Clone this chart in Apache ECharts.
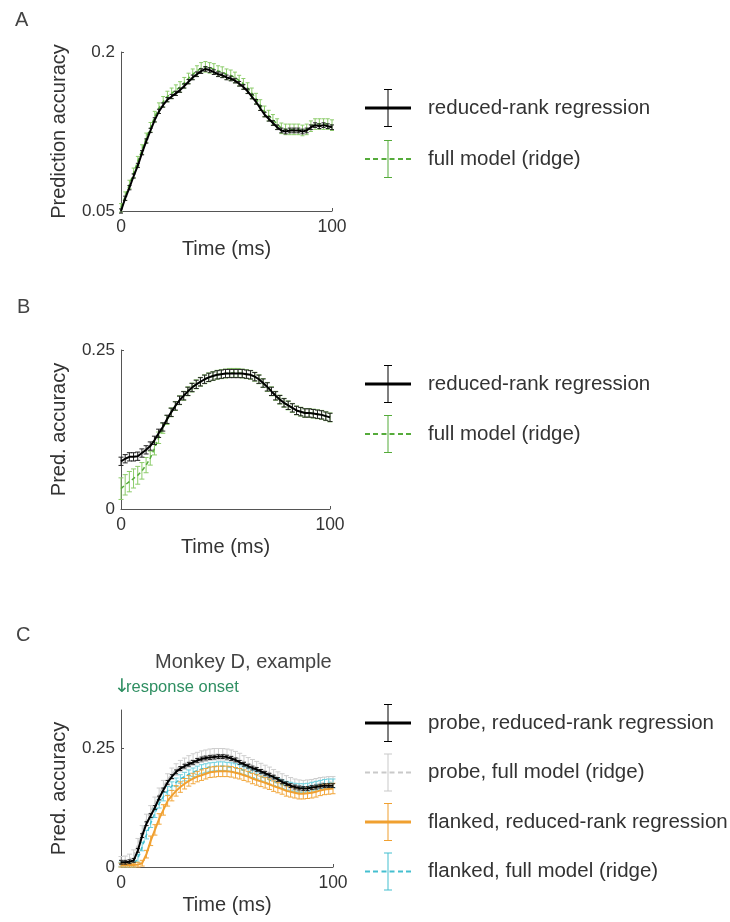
<!DOCTYPE html>
<html>
<head>
<meta charset="utf-8">
<script src="https://cdn.jsdelivr.net/npm/echarts@6/dist/echarts.min.js"></script>
<style>html,body{margin:0;padding:0;background:#fff;}#c{width:730px;height:922px;}</style>
</head>
<body>
<div id="c"></div>
<script>
// ---------- data ----------
const time = [0,2,4,6,8,10,12,14,16,18,20,22,24,26,28,30,32,34,36,38,40,42,44,46,48,50,52,54,56,58,60,62,64,66,68,70,72,74,76,78,80,82,84,86,88,90,92,94,96,98,100];

// Panel A
const A_rrr = [0.050,0.062,0.072,0.083,0.093,0.105,0.116,0.126,0.136,0.144,0.150,0.155,0.158,0.161,0.164,0.168,0.172,0.176,0.179,0.182,0.184,0.183,0.181,0.179,0.178,0.176,0.175,0.173,0.170,0.167,0.163,0.158,0.153,0.147,0.141,0.137,0.133,0.129,0.126,0.125,0.126,0.126,0.126,0.125,0.126,0.129,0.131,0.130,0.131,0.130,0.129];
const A_rrr_err = [0.002,0.002,0.002,0.002,0.002,0.002,0.002,0.002,0.002,0.002,0.002,0.002,0.002,0.002,0.002,0.002,0.002,0.0022,0.0022,0.0022,0.0022,0.0022,0.0022,0.0022,0.0022,0.0022,0.0022,0.0022,0.0022,0.0022,0.0022,0.0022,0.0022,0.0022,0.0022,0.0022,0.0022,0.0022,0.0022,0.0022,0.0022,0.0022,0.0022,0.0022,0.0022,0.0022,0.0022,0.0022,0.0022,0.0022,0.0022];
const A_ridge = [0.053,0.064,0.075,0.086,0.097,0.108,0.119,0.129,0.139,0.147,0.153,0.158,0.161,0.164,0.167,0.171,0.175,0.179,0.182,0.185,0.186,0.185,0.184,0.182,0.181,0.179,0.178,0.176,0.173,0.170,0.166,0.161,0.156,0.150,0.144,0.140,0.136,0.132,0.128,0.127,0.127,0.127,0.127,0.126,0.127,0.130,0.132,0.132,0.132,0.132,0.131];
const A_ridge_err = [0.004,0.004,0.004,0.0045,0.0045,0.0045,0.0045,0.0045,0.005,0.005,0.005,0.005,0.005,0.005,0.005,0.005,0.005,0.005,0.005,0.005,0.005,0.005,0.005,0.005,0.005,0.005,0.005,0.005,0.005,0.005,0.005,0.005,0.005,0.005,0.005,0.005,0.005,0.005,0.005,0.005,0.005,0.005,0.005,0.005,0.005,0.005,0.005,0.005,0.005,0.005,0.005];

// Panel B
const B_rrr = [0.075,0.079,0.082,0.082,0.083,0.088,0.093,0.099,0.108,0.119,0.129,0.141,0.152,0.162,0.171,0.178,0.185,0.191,0.196,0.200,0.204,0.207,0.209,0.211,0.212,0.213,0.213,0.213,0.213,0.213,0.212,0.211,0.208,0.204,0.198,0.192,0.185,0.178,0.172,0.167,0.163,0.159,0.155,0.153,0.151,0.151,0.150,0.149,0.148,0.146,0.144];
const B_rrr_err = [0.0065,0.0065,0.0065,0.0065,0.0065,0.0065,0.0065,0.0065,0.0065,0.0065,0.0065,0.0065,0.0065,0.0065,0.0065,0.0065,0.0065,0.0065,0.0065,0.0065,0.0065,0.0065,0.0065,0.0065,0.0065,0.0065,0.0065,0.0065,0.0065,0.0065,0.0065,0.0065,0.0065,0.0065,0.0065,0.0065,0.0065,0.0065,0.0065,0.0065,0.0065,0.0065,0.0065,0.0065,0.0065,0.0065,0.0065,0.0065,0.0065,0.0065,0.0065];
const B_ridge = [0.032,0.038,0.043,0.048,0.053,0.060,0.069,0.080,0.095,0.112,0.127,0.140,0.152,0.162,0.171,0.178,0.185,0.191,0.196,0.200,0.204,0.207,0.209,0.211,0.212,0.213,0.214,0.214,0.214,0.213,0.212,0.211,0.208,0.204,0.198,0.192,0.185,0.178,0.172,0.167,0.163,0.159,0.155,0.153,0.151,0.151,0.150,0.149,0.148,0.146,0.144];
const B_ridge_err = [0.017,0.016,0.016,0.015,0.014,0.013,0.012,0.011,0.010,0.009,0.008,0.007,0.007,0.007,0.007,0.007,0.007,0.007,0.007,0.007,0.007,0.007,0.007,0.007,0.007,0.007,0.007,0.007,0.007,0.007,0.007,0.007,0.007,0.007,0.007,0.007,0.007,0.007,0.007,0.007,0.007,0.007,0.007,0.007,0.007,0.007,0.007,0.007,0.007,0.007,0.007];

// Panel C
const C_probe_rrr = [0.010,0.010,0.011,0.014,0.035,0.066,0.091,0.108,0.125,0.145,0.162,0.178,0.190,0.200,0.207,0.212,0.216,0.220,0.224,0.227,0.229,0.230,0.231,0.232,0.232,0.231,0.228,0.225,0.220,0.216,0.212,0.208,0.205,0.201,0.197,0.193,0.189,0.184,0.179,0.175,0.171,0.168,0.166,0.165,0.165,0.167,0.168,0.170,0.171,0.171,0.171];
const C_probe_rrr_err = [0.004,0.004,0.004,0.004,0.004,0.004,0.004,0.004,0.004,0.004,0.004,0.004,0.004,0.004,0.004,0.004,0.004,0.004,0.004,0.004,0.004,0.004,0.004,0.004,0.004,0.004,0.004,0.004,0.004,0.004,0.004,0.004,0.004,0.004,0.004,0.004,0.004,0.004,0.004,0.004,0.004,0.004,0.004,0.004,0.004,0.004,0.004,0.004,0.004,0.004,0.004];
const C_probe_ridge = [0.012,0.013,0.016,0.025,0.048,0.075,0.099,0.117,0.135,0.154,0.170,0.184,0.196,0.205,0.212,0.217,0.222,0.226,0.229,0.232,0.234,0.236,0.237,0.237,0.237,0.236,0.234,0.231,0.227,0.222,0.218,0.214,0.210,0.206,0.202,0.198,0.193,0.188,0.184,0.180,0.176,0.173,0.171,0.170,0.171,0.172,0.174,0.176,0.177,0.178,0.178];
const C_probe_ridge_err = [0.010,0.010,0.011,0.011,0.012,0.012,0.012,0.012,0.012,0.012,0.012,0.012,0.012,0.012,0.012,0.012,0.012,0.012,0.012,0.012,0.012,0.012,0.012,0.012,0.012,0.012,0.012,0.012,0.012,0.012,0.012,0.012,0.012,0.012,0.012,0.012,0.012,0.012,0.012,0.012,0.012,0.012,0.012,0.012,0.012,0.012,0.012,0.012,0.012,0.012,0.012];
const C_flank_rrr = [0.004,0.004,0.004,0.004,0.005,0.008,0.027,0.055,0.078,0.101,0.120,0.139,0.150,0.160,0.168,0.175,0.181,0.186,0.190,0.193,0.196,0.199,0.200,0.201,0.201,0.201,0.200,0.198,0.196,0.193,0.190,0.186,0.183,0.180,0.177,0.174,0.170,0.167,0.164,0.160,0.158,0.156,0.154,0.154,0.155,0.156,0.158,0.161,0.163,0.164,0.165];
const C_flank_rrr_err = [0.004,0.004,0.004,0.004,0.005,0.006,0.008,0.010,0.011,0.011,0.011,0.011,0.011,0.011,0.011,0.011,0.011,0.011,0.011,0.011,0.011,0.011,0.011,0.011,0.011,0.011,0.011,0.011,0.011,0.011,0.011,0.011,0.011,0.011,0.011,0.011,0.011,0.011,0.011,0.011,0.011,0.011,0.011,0.011,0.011,0.011,0.011,0.011,0.011,0.011,0.011];
const C_flank_ridge = [0.005,0.005,0.005,0.006,0.018,0.043,0.068,0.092,0.113,0.133,0.148,0.160,0.170,0.178,0.185,0.190,0.195,0.199,0.203,0.206,0.208,0.210,0.211,0.212,0.212,0.211,0.210,0.208,0.206,0.203,0.200,0.197,0.194,0.190,0.187,0.183,0.180,0.177,0.174,0.171,0.169,0.167,0.166,0.166,0.167,0.169,0.171,0.173,0.175,0.176,0.176];
const C_flank_ridge_err = [0.005,0.005,0.005,0.006,0.008,0.009,0.009,0.009,0.009,0.009,0.009,0.009,0.009,0.009,0.009,0.009,0.009,0.009,0.009,0.009,0.009,0.009,0.009,0.009,0.009,0.009,0.009,0.009,0.009,0.009,0.009,0.009,0.009,0.009,0.009,0.009,0.009,0.009,0.009,0.009,0.009,0.009,0.009,0.009,0.009,0.009,0.009,0.009,0.009,0.009,0.009];

const xTicks = [0, 100];
const yTicksA = [0.05, 0.2];
const yTicksB = [0, 0.25];
const yTicksC = [0, 0.25];

const namesAB = ['reduced-rank regression', 'full model (ridge)'];
const namesC = ['probe, reduced-rank regression', 'probe, full model (ridge)', 'flanked, reduced-rank regression', 'flanked, full model (ridge)'];

// ---------- build ----------
const FONT = 'Liberation Sans, Arial, sans-serif';
const TXT = '#333';
const AX = '#555';

const pairs = (v) => time.map((t, i) => [t, v[i]]);
const bars = (v, e) => time.map((t, i) => [t, v[i] - e[i], v[i] + e[i]]);

const ICON_SOLID = 'path://M0 17.5H46V20.5H0Z M22.5 1H23.5V37H22.5Z M19 0H27V1H19Z M19 37H27V38H19Z';
const ICON_DASH = 'path://M0 18H5V20H0Z M8 18H13V20H8Z M16.5 18H21.5V20H16.5Z M24.5 18H29.5V20H24.5Z M33 18H38V20H33Z M41 18H46V20H41Z M22.5 1H23.5V37H22.5Z M19 0H27V1H19Z M19 37H27V38H19Z';

function errSeries(name, gi, v, e, color, z, capW) {
  const w = capW || 2;
  return {
    type: 'custom', name: name, xAxisIndex: gi, yAxisIndex: gi, z: z, silent: true,
    data: bars(v, e), encode: { x: 0, y: [1, 2] },
    renderItem: function (params, api) {
      const x = api.value(0);
      const p1 = api.coord([x, api.value(1)]);
      const p2 = api.coord([x, api.value(2)]);
      const st = { stroke: color, lineWidth: 1 };
      return { type: 'group', children: [
        { type: 'line', shape: { x1: p1[0], y1: p1[1], x2: p2[0], y2: p2[1] }, style: st },
        { type: 'line', shape: { x1: p1[0] - w, y1: p1[1], x2: p1[0] + w, y2: p1[1] }, style: st },
        { type: 'line', shape: { x1: p2[0] - w, y1: p2[1], x2: p2[0] + w, y2: p2[1] }, style: st }
      ]};
    }
  };
}
function lineSeries(name, gi, v, color, width, dashed, z) {
  return {
    type: 'line', name: name, xAxisIndex: gi, yAxisIndex: gi, z: z, silent: true,
    data: pairs(v), showSymbol: false, symbol: 'none', animation: false,
    color: color,
    lineStyle: { color: color, width: width, type: dashed ? [4, 3] : 'solid' }
  };
}

const grids = [
  { left: 121, top: 52, width: 211, height: 159 },
  { left: 121, top: 350, width: 209, height: 159 },
  { left: 121, top: 710, width: 212, height: 157 }
];
const yRanges = [[0.05, 0.2, yTicksA, 'Prediction accuracy'], [0, 0.25, yTicksB, 'Pred. accuracy'], [0, 0.33, yTicksC, 'Pred. accuracy']];

const xAxes = grids.map((g, i) => ({
  type: 'value', gridIndex: i, min: 0, max: 100, interval: 100,
  axisLine: { show: true, lineStyle: { color: AX, width: 1 } },
  axisTick: { show: true, inside: true, length: 3, lineStyle: { color: AX }, customValues: xTicks },
  axisLabel: { fontSize: 17.5, color: TXT, fontFamily: FONT, margin: 7, customValues: xTicks },
  splitLine: { show: false },
  name: 'Time (ms)', nameLocation: 'middle', nameGap: 28,
  nameTextStyle: { fontSize: 20, color: TXT, fontFamily: FONT }
}));
const yAxes = yRanges.map((r, i) => ({
  type: 'value', gridIndex: i, min: r[0], max: r[1],
  axisLine: { show: true, lineStyle: { color: AX, width: 1 } },
  axisTick: { show: true, inside: true, length: 3, lineStyle: { color: AX }, customValues: r[2] },
  axisLabel: { fontSize: 17, color: TXT, fontFamily: FONT, margin: 6, customValues: r[2] },
  splitLine: { show: false },
  name: r[3], nameLocation: 'middle', nameGap: 52, nameRotate: 90,
  nameTextStyle: { fontSize: 20, color: TXT, fontFamily: FONT }
}));

const cBlack = '#000000', cGreen = '#55ab3a', cGreenErr = '#8ccc6a';
const cGray = '#c9c9c9', cGrayErr = '#cdcdcd';
const cOrange = '#f0a030', cOrangeErr = '#f2a63a';
const cCyan = '#45bfd0', cCyanErr = '#6fd0de';

const series = [
  // A
  errSeries('A_ridge_err', 0, A_ridge, A_ridge_err, cGreenErr, 2, 2),
  lineSeries(namesAB[1], 0, A_ridge, cGreen, 1.5, true, 3),
  errSeries('A_rrr_err', 0, A_rrr, A_rrr_err, '#222', 4, 2),
  lineSeries(namesAB[0], 0, A_rrr, cBlack, 2, false, 5),
  // B
  errSeries('B_ridge_err', 1, B_ridge, B_ridge_err, cGreenErr, 2, 2.5),
  lineSeries(namesAB[1], 1, B_ridge, cGreen, 1.5, true, 3),
  errSeries('B_rrr_err', 1, B_rrr, B_rrr_err, '#222', 4, 2.5),
  lineSeries(namesAB[0], 1, B_rrr, cBlack, 2, false, 5),
  // C
  errSeries('C_pr_err', 2, C_probe_ridge, C_probe_ridge_err, cGrayErr, 2, 2.5),
  lineSeries(namesC[1], 2, C_probe_ridge, cGray, 1.5, true, 3),
  errSeries('C_fr_err', 2, C_flank_ridge, C_flank_ridge_err, cCyanErr, 4, 2.5),
  lineSeries(namesC[3], 2, C_flank_ridge, cCyan, 1.5, true, 5),
  errSeries('C_frr_err', 2, C_flank_rrr, C_flank_rrr_err, cOrangeErr, 6, 2.5),
  lineSeries(namesC[2], 2, C_flank_rrr, cOrange, 2, false, 7),
  errSeries('C_prr_err', 2, C_probe_rrr, C_probe_rrr_err, '#222', 8, 2),
  lineSeries(namesC[0], 2, C_probe_rrr, cBlack, 2, false, 9)
];

function legend(top, gap, names, icons) {
  return {
    orient: 'vertical', left: 365, top: top, itemGap: gap, itemWidth: 46, itemHeight: 38,
    selectedMode: false, padding: 0,
    data: names.map((n, i) => ({ name: n, icon: icons[i] })),
    textStyle: { fontSize: 20.5, color: TXT, fontFamily: FONT, padding: [0, 0, 0, 12] }
  };
}

const option = {
  animation: false,
  backgroundColor: '#fff',
  title: [
    { text: 'A', left: 15, top: 10, padding: 0, textStyle: { fontSize: 20, fontWeight: 'normal', color: '#444', fontFamily: FONT } },
    { text: 'B', left: 17, top: 297, padding: 0, textStyle: { fontSize: 20, fontWeight: 'normal', color: '#444', fontFamily: FONT } },
    { text: 'C', left: 16, top: 625, padding: 0, textStyle: { fontSize: 20, fontWeight: 'normal', color: '#444', fontFamily: FONT } },
    { text: 'Monkey D, example', left: 155, top: 652, padding: 0, textStyle: { fontSize: 20, fontWeight: 'normal', color: '#444', fontFamily: FONT } },
    { text: '{a|↓}{t|response onset}', left: 114, top: 678, padding: 0,
      textStyle: { fontWeight: 'normal', rich: {
        a: { fontSize: 19, fontWeight: 'normal', color: '#2f8f62', fontFamily: 'DejaVu Sans', width: 12 },
        t: { fontSize: 16.5, fontWeight: 'normal', color: '#2f8f62', fontFamily: FONT }
      } } }
  ],
  grid: grids,
  xAxis: xAxes,
  yAxis: yAxes,
  legend: [
    legend(89, 13, namesAB, [ICON_SOLID, ICON_DASH]),
    legend(365, 12, namesAB, [ICON_SOLID, ICON_DASH]),
    legend(704, 11.5, namesC, [ICON_SOLID, ICON_DASH, ICON_SOLID, ICON_DASH])
  ],
  series: series
};

const chart = echarts.init(document.getElementById('c'), null, { renderer: 'canvas' });
chart.setOption(option);
</script>
</body>
</html>
